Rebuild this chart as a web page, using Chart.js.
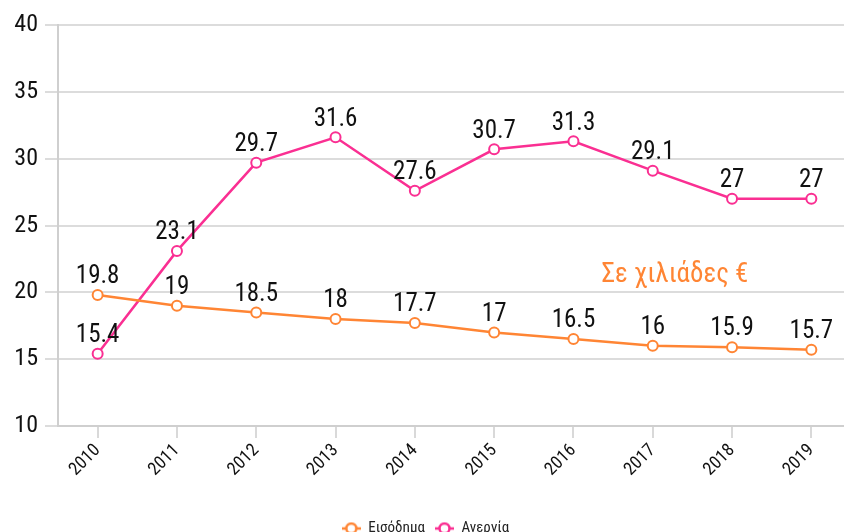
<!DOCTYPE html>
<html>
<head>
<meta charset="utf-8">
<script src="https://cdn.jsdelivr.net/npm/chart.js@4"></script>
<style>
html,body{margin:0;padding:0;background:#fff;overflow:hidden;}
#wrap{width:864px;height:546px;position:relative;}
</style>
</head>
<body>
<div id="wrap"><canvas id="c" width="864" height="546"></canvas></div>
<script>
const years = ['2010','2011','2012','2013','2014','2015','2016','2017','2018','2019'];
const incomeLabel = 'Εισόδημα';
const unemploymentLabel = 'Ανεργία';
const income = [19.8, 19, 18.5, 18, 17.7, 17, 16.5, 16, 15.9, 15.7];
const unemployment = [15.4, 23.1, 29.7, 31.6, 27.6, 30.7, 31.3, 29.1, 27, 27];
const yTicks = [10, 15, 20, 25, 30, 35, 40];
const noteText = 'Σε χιλιάδες €';

const ORANGE = '#ff8534';
const PINK = '#fa2f92';
const FONT = '"Roboto Condensed", "Liberation Sans Narrow", "DejaVu Sans Condensed", Roboto, sans-serif';

function marker(color){
  const c = document.createElement('canvas');
  c.width = 19; c.height = 14;
  const g = c.getContext('2d');
  g.strokeStyle = color; g.lineWidth = 2.5;
  g.beginPath(); g.moveTo(0,7); g.lineTo(19,7); g.stroke();
  g.beginPath(); g.arc(9.5,7,5,0,Math.PI*2);
  g.fillStyle = '#fff'; g.fill(); g.stroke();
  return c;
}

const labelsPlugin = {
  id: 'valueLabels',
  afterDatasetsDraw(chart){
    const ctx = chart.ctx;
    ctx.save();
    ctx.font = '25px ' + FONT;
    ctx.fillStyle = '#111';
    ctx.textAlign = 'center';
    ctx.textBaseline = 'middle';
    chart.data.datasets.forEach((ds, i) => {
      const meta = chart.getDatasetMeta(i);
      meta.data.forEach((pt, j) => {
        ctx.fillText(String(ds.data[j]), pt.x, pt.y - 18);
      });
    });
    const xs = chart.scales.x, ys = chart.scales.y;
    ctx.font = '27px ' + FONT;
    ctx.fillStyle = ORANGE;
    ctx.fillText(noteText, xs.getPixelForValue(7.28), ys.getPixelForValue(21.3));
    ctx.restore();
  }
};

new Chart(document.getElementById('c'), {
  type: 'line',
  data: {
    labels: years,
    datasets: [
      {label: incomeLabel, data: income, borderColor: ORANGE, backgroundColor: '#fff',
       borderWidth: 2.5, pointRadius: 5, pointBorderWidth: 2, pointBackgroundColor: '#fff',
       pointBorderColor: ORANGE, tension: 0},
      {label: unemploymentLabel, data: unemployment, borderColor: PINK, backgroundColor: '#fff',
       borderWidth: 2.5, pointRadius: 5, pointBorderWidth: 2, pointBackgroundColor: '#fff',
       pointBorderColor: PINK, tension: 0}
    ]
  },
  options: {
    responsive: false,
    animation: false,
    layout: {padding: {top: 25, right: 13, left: 0, bottom: 0}},
    scales: {
      x: {
        offset: true,
        grid: {display: true, drawOnChartArea: false, drawTicks: true, tickLength: 12, color: '#d9d9d9', lineWidth: 2},
        border: {display: true, color: '#cfcfcf', width: 2},
        ticks: {minRotation: 45, maxRotation: 45, color: '#111', font: {family: FONT, size: 18}, padding: 2},
        afterFit(s){ s.height = 85; }
      },
      y: {
        min: 10, max: 40,
        afterBuildTicks(s){ s.ticks = yTicks.map(v => ({value: v})); },
        grid: {color: '#dcdcdc', lineWidth: 2, tickLength: 13},
        border: {display: true, color: '#cfcfcf', width: 2},
        ticks: {color: '#111', font: {family: FONT, size: 24}, padding: 7},
        afterFit(s){ s.width = 58; }
      }
    },
    plugins: {
      legend: {
        position: 'bottom',
        labels: {
          usePointStyle: true,
          pointStyleWidth: 19,
          color: '#222',
          font: {family: FONT, size: 15},
          padding: 10,
          generateLabels(chart){
            return chart.data.datasets.map((ds, i) => ({
              text: ds.label, datasetIndex: i, pointStyle: marker(ds.borderColor),
              fillStyle: '#fff', strokeStyle: ds.borderColor, lineWidth: 0, hidden: false,
              fontColor: '#222'
            }));
          }
        }
      },
      tooltip: {enabled: false}
    }
  },
  plugins: [labelsPlugin]
});
</script>
</body>
</html>
